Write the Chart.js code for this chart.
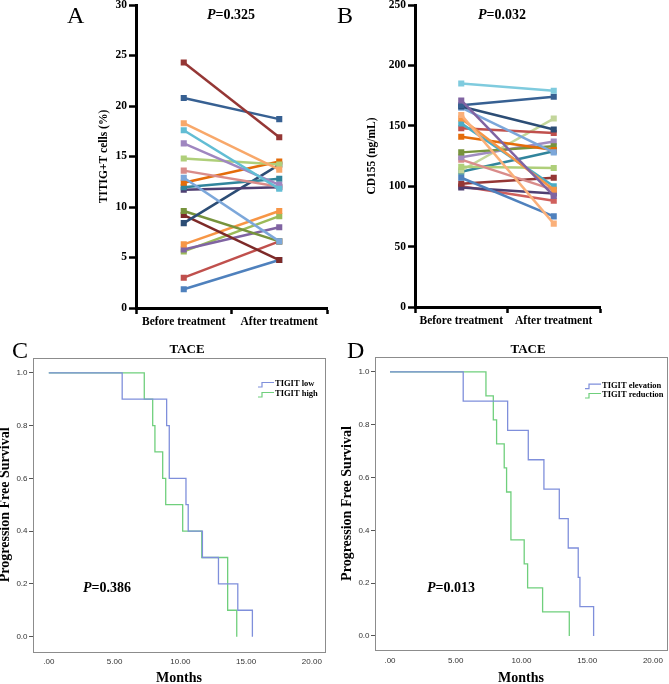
<!DOCTYPE html>
<html><head><meta charset="utf-8">
<script src="https://cdn.jsdelivr.net/npm/chart.js@4/dist/chart.umd.min.js"></script>
<style>
html,body{margin:0;padding:0;background:#fff;width:669px;height:684px;overflow:hidden;position:relative}
canvas{position:absolute}
.t{position:absolute;font-family:"Liberation Serif",serif;color:#000;white-space:nowrap;line-height:1}
.p{font-size:14px;font-weight:bold}
.lt{font-size:24px}
.ti{font-size:13px;font-weight:bold;text-align:center;width:100px}
</style></head><body>
<canvas id="cA" width="280" height="340" style="left:60px;top:-10px"></canvas>
<canvas id="cB" width="314" height="340" style="left:355px;top:-10px"></canvas>
<canvas id="cC" width="339" height="350" style="left:-4px;top:340px"></canvas>
<canvas id="cD" width="334" height="350" style="left:335px;top:340px"></canvas>
<div class="t lt" style="left:67px;top:3px">A</div>
<div class="t lt" style="left:337px;top:3px">B</div>
<div class="t lt" style="left:12px;top:338px">C</div>
<div class="t lt" style="left:347px;top:338px">D</div>
<div class="t p" style="left:207px;top:8px"><i>P</i>=0.325</div>
<div class="t p" style="left:478px;top:8px"><i>P</i>=0.032</div>
<div class="t p" style="left:83px;top:581px"><i>P</i>=0.386</div>
<div class="t p" style="left:427px;top:581px"><i>P</i>=0.013</div>
<div class="t ti" style="left:137px;top:342px">TACE</div>
<div class="t ti" style="left:478px;top:342px">TACE</div>
<script>
// ---------- data ----------
const pairCategories = ['Before treatment', 'After treatment'];

const tigitBefore = [24.3, 20.8, 18.3, 17.6, 16.3, 14.8, 13.6, 12.9, 12.4, 11.95, 11.7, 8.4, 9.6, 9.2, 6.3, 5.8, 5.6, 3.0, 1.85];
const tigitAfter  = [16.9, 18.7, 13.7, 11.8, 12.2, 14.2, 12.0, 6.6, 14.5, 12.8, 11.95, 14.2, 6.6, 4.75, 9.6, 8.0, 9.1, 6.6, 4.75];
const tigitColors = ['#953735','#376092','#F8A86A','#62BDD4','#9F86C0','#AFCF7A','#D98C8A','#7CA7DA','#E46C0A','#31859C',
                     '#4F3F72','#2C4D75','#77933C','#7D2A28','#F79646','#8064A2','#9BBB59','#C0504D','#4F81BD'];

const cd155Before = [185, 171, 167, 166, 165, 159, 156, 152, 148, 141, 128, 124, 122, 116, 113, 112, 107, 102, 99, 100];
const cd155After  = [179, 92, 174, 147, 128, 69, 97, 100, 144, 130, 133, 137, 97, 115, 156, 129, 75, 107, 94, 88];
const cd155Colors = ['#7FCBDE','#8064A2','#376092','#2C4D75','#7CA7DA','#FAB07A','#F79646','#4BACC6','#C0504D','#E46C0A',
                     '#77933C','#A08CC0','#D98C8A','#AFCF7A','#C3D69B','#31859C','#4F81BD','#953735','#4F3F72','#D0605D'];

const tigitTicksMax = 30, tigitStep = 5;
const cd155TicksMax = 250, cd155Step = 50;

// Kaplan-Meier (time in months, survival)
const cLowTime  = [0, 5.58, 8.96, 9.16, 10.43, 10.6, 11.68, 12.9, 14.37, 15.48];
const cLowSurv  = [1, 0.9, 0.8, 0.6, 0.5, 0.4, 0.3, 0.2, 0.1, 0.0];
const cHighTime = [0, 7.26, 7.9, 8.07, 8.66, 8.89, 10.18, 11.63, 13.6, 14.29];
const cHighSurv = [1, 0.9, 0.8, 0.7, 0.6, 0.5, 0.4, 0.3, 0.1, 0.0];

const dElevTime = [0, 5.57, 8.95, 10.52, 11.71, 12.88, 13.56, 14.32, 14.45, 15.49];
const dElevSurv = [1, 0.889, 0.778, 0.667, 0.556, 0.444, 0.333, 0.222, 0.111, 0.0];
const dRedTime  = [0, 7.3, 7.86, 8.11, 8.69, 8.87, 9.2, 10.21, 10.47, 11.61, 13.64];
const dRedSurv  = [1, 0.909, 0.818, 0.727, 0.636, 0.545, 0.364, 0.273, 0.182, 0.091, 0.0];

const kmXTicks = [0, 5, 10, 15, 20];
const kmXTickLabels = ['.00', '5.00', '10.00', '15.00', '20.00'];
const kmYTicks = [0, 0.2, 0.4, 0.6, 0.8, 1.0];
const kmYTickLabels = ['0.0', '0.2', '0.4', '0.6', '0.8', '1.0'];

// ---------- helpers ----------
const serifB = (size) => ({family: '"Liberation Serif", serif', size, weight: 'bold'});

function pairChart(id, before, after, colors, cfg) {
  const datasets = before.map((b, i) => ({
    data: [b, after[i]],
    borderColor: colors[i], backgroundColor: colors[i],
    pointBackgroundColor: colors[i], pointBorderWidth: 0,
    pointStyle: 'rect', pointRadius: 4.3, borderWidth: 2.5, tension: 0
  }));
  return new Chart(document.getElementById(id), {
    type: 'line',
    data: {labels: pairCategories, datasets},
    options: {
      responsive: false, animation: false, devicePixelRatio: 1,
      layout: {padding: {top: 15, right: cfg.padRight, left: 0, bottom: 0}},
      plugins: {legend: {display: false}, tooltip: {enabled: false}},
      scales: {
        x: {
          type: 'category', offset: true,
          grid: {display: true, offset: true, drawOnChartArea: false, drawTicks: true, tickLength: 6, tickWidth: 2.5, tickColor: '#000'},
          border: {display: true, color: '#000', width: 3},
          ticks: {font: serifB(11.5), color: '#000', padding: 1, maxRotation: 0, autoSkip: false},
          afterFit: s => { s.height = cfg.xH; }
        },
        y: {
          min: 0, max: cfg.yMax,
          ticks: {stepSize: cfg.step, font: serifB(11.5), color: '#000', padding: 2},
          grid: {display: true, drawOnChartArea: false, drawTicks: true, tickLength: 7, tickWidth: 2.5, tickColor: '#000'},
          border: {display: true, color: '#000', width: 3},
          title: {display: true, text: cfg.yTitle, font: serifB(11.5), color: '#000', padding: {top: cfg.titlePad, bottom: 0}},
          afterFit: s => { s.width = cfg.yW; }
        }
      }
    }
  });
}

const frameBox = {
  id: 'frameBox',
  afterDraw(chart, args, opts) {
    const {ctx, chartArea: a} = chart;
    ctx.save();
    ctx.strokeStyle = opts.color; ctx.lineWidth = opts.width;
    ctx.strokeRect(Math.round(a.left) + 0.5, Math.round(a.top) + 0.5, Math.round(a.right - a.left), Math.round(a.bottom - a.top));
    ctx.restore();
  }
};
const stepLegend = {
  id: 'stepLegend',
  afterDraw(chart, args, opts) {
    const {ctx, chartArea: a} = chart;
    ctx.save();
    ctx.font = opts.font; ctx.textBaseline = 'middle'; ctx.textAlign = 'left'; ctx.fillStyle = '#000';
    chart.data.datasets.forEach((ds, i) => {
      const x = a.left + opts.x, y = a.top + opts.y + i * opts.row;
      ctx.strokeStyle = ds.borderColor; ctx.lineWidth = 1.2;
      ctx.beginPath();
      ctx.moveTo(x, y + 3); ctx.lineTo(x + 4, y + 3); ctx.lineTo(x + 4, y - 1.5); ctx.lineTo(x + 16, y - 1.5);
      ctx.stroke();
      ctx.fillText(ds.label, x + 17, y);
    });
    ctx.restore();
  }
};

function kmChart(id, series, cfg) {
  const datasets = series.map(s => ({
    label: s.label,
    data: s.time.map((t, i) => ({x: t, y: s.surv[i]})),
    borderColor: s.color, borderWidth: 1.3, pointRadius: 0, stepped: 'before', fill: false
  }));
  return new Chart(document.getElementById(id), {
    type: 'line',
    data: {datasets},
    plugins: [frameBox, stepLegend],
    options: {
      responsive: false, animation: false, devicePixelRatio: 1,
      layout: {padding: {top: cfg.padTop, right: cfg.padRight, left: 0, bottom: 0}},
      plugins: {
        legend: {display: false}, tooltip: {enabled: false},
        frameBox: {color: '#8c8c8c', width: 1},
        stepLegend: {font: 'bold 8.5px "Liberation Serif"', x: cfg.legX, y: cfg.legY, row: cfg.legRow}
      },
      scales: {
        x: {
          type: 'linear', min: cfg.xMin, max: cfg.xMax,
          afterBuildTicks: s => { s.ticks = kmXTicks.map(v => ({value: v})); },
          ticks: {callback: (v, i) => kmXTickLabels[i], font: {family: '"Liberation Sans", sans-serif', size: 8}, color: '#333', padding: cfg.xPad, maxRotation: 0, autoSkip: false},
          grid: {display: true, drawOnChartArea: false, drawTicks: false},
          border: {display: false},
          title: {display: true, text: 'Months', font: serifB(14), color: '#000', padding: {top: 0, bottom: 3.3}},
          afterFit: s => { s.height = cfg.xH; }
        },
        y: {
          min: cfg.yMin, max: cfg.yMax,
          afterBuildTicks: s => { s.ticks = kmYTicks.map(v => ({value: v})); },
          ticks: {callback: (v, i) => kmYTickLabels[i], font: {family: '"Liberation Sans", sans-serif', size: 8}, color: '#333', padding: 1.5},
          grid: {display: true, drawOnChartArea: false, drawTicks: true, tickLength: 4, tickColor: '#555', tickWidth: 1},
          border: {display: false},
          title: {display: true, text: 'Progression Free Survival', font: serifB(14), color: '#000', padding: {top: cfg.yTitlePad, bottom: 0}},
          afterFit: s => { s.width = cfg.yW; }
        }
      }
    }
  });
}

// ---------- charts ----------
pairChart('cA', tigitBefore, tigitAfter, tigitColors,
  {padRight: 13, xH: 22, yW: 76, yMax: tigitTicksMax, step: tigitStep, yTitle: 'TITIG+T cells (%)', titlePad: 37.1});
pairChart('cB', cd155Before, cd155After, cd155Colors,
  {padRight: 69, xH: 23, yW: 60, yMax: cd155TicksMax, step: cd155Step, yTitle: 'CD155 (ng/mL)', titlePad: 10});

kmChart('cC', [
  {label: 'TIGIT low', time: cLowTime, surv: cLowSurv, color: '#7F8FDB'},
  {label: 'TIGIT high', time: cHighTime, surv: cHighSurv, color: '#6FCF7C'}
], {padTop: 18, padRight: 10, xH: 38.3, yW: 37, yTitlePad: 0.6, xMin: -1.2, xMax: 21.0, yMin: -0.057, yMax: 1.056,
    xPad: 5.2, legX: 225, legY: 26, legRow: 10});

kmChart('cD', [
  {label: 'TIGIT elevation', time: dElevTime, surv: dElevSurv, color: '#7F8FDB'},
  {label: 'TIGIT reduction', time: dRedTime, surv: dRedSurv, color: '#6FCF7C'}
], {padTop: 17, padRight: 2, xH: 40, yW: 40, yTitlePad: 3.6, xMin: -1.14, xMax: 21.06, yMin: -0.053, yMax: 1.056,
    xPad: 6, legX: 210, legY: 28.7, legRow: 9.3});
</script>
</body></html>
